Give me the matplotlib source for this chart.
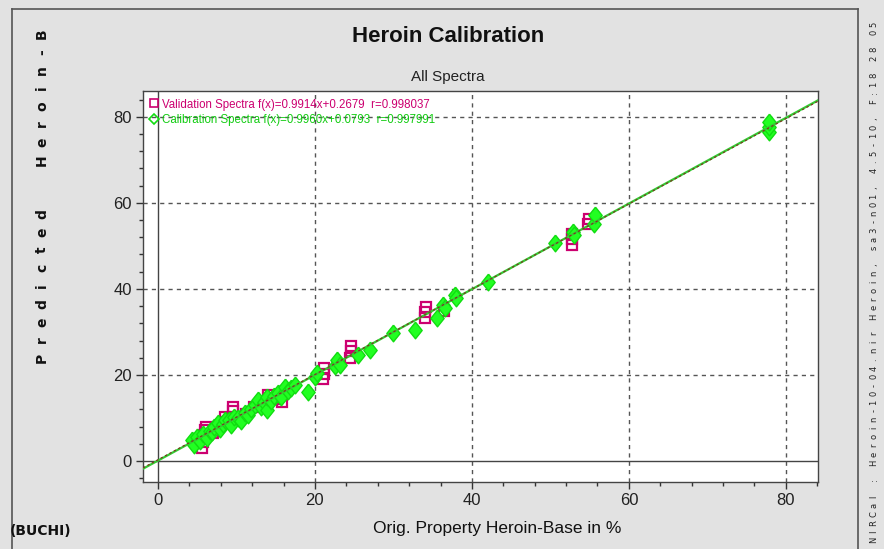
import numpy as np
from matplotlib import pyplot as plt
from matplotlib.lines import Line2D
from matplotlib.ticker import MultipleLocator

NARROW = ['Liberation Sans', 'DejaVu Sans']

# calibration spectra (green diamonds)
cal_x = [4.3, 4.6, 5.0, 5.3, 5.8, 6.2, 6.6, 6.9, 7.2, 7.6, 7.9, 8.3, 8.6, 9.0, 9.3, 9.7,
         10.2, 10.6, 11.1, 11.5, 11.9, 12.4, 12.7, 13.1, 13.5, 13.9, 13.9, 14.4, 14.8,
         15.3, 15.7, 16.2, 16.6, 17.0, 17.5, 19.1, 20.0, 20.3, 22.5, 22.8, 23.2, 25.5,
         27.0, 30.0, 32.7, 35.5, 36.3, 36.6, 37.8, 38.0, 42.0, 50.6, 52.9, 53.0, 55.5,
         55.7, 77.8, 77.9, 77.9]
cal_y = [4.9, 3.8, 5.6, 4.6, 6.2, 5.3, 7.0, 6.7, 8.0, 8.8, 7.4, 8.5, 9.6, 9.5, 8.4, 10.3,
         10.0, 9.2, 11.2, 10.6, 12.0, 13.0, 14.2, 12.6, 13.8, 11.9, 14.9, 14.0, 15.1,
         15.8, 14.9, 17.2, 16.3, 16.9, 17.7, 16.0, 19.5, 20.5, 22.0, 23.5, 22.3, 24.6,
         25.8, 29.8, 30.5, 33.3, 36.3, 35.5, 38.6, 37.9, 41.6, 50.7, 53.3, 52.6, 55.0,
         57.2, 76.5, 77.7, 78.8]

# validation spectra (magenta squares)
val_x = [5.6, 5.7, 5.8, 6.0, 6.1, 7.0, 7.6, 8.5, 8.8, 9.5, 9.6, 10.5, 11.2, 12.2, 13.0,
         14.0, 15.0, 15.8, 21.0, 21.1, 21.2, 24.5, 24.6, 24.6, 34.0, 34.0, 34.1, 36.4,
         52.7, 52.8, 52.8, 54.8, 54.9]
val_y = [3.0, 4.5, 6.0, 7.2, 8.0, 6.5, 7.8, 10.2, 9.0, 12.6, 11.5, 10.0, 10.8, 12.5, 13.2,
         15.3, 14.5, 13.7, 19.0, 20.3, 21.5, 24.0, 25.5, 26.8, 33.2, 34.6, 35.9, 34.8,
         50.3, 51.5, 52.8, 55.2, 56.3]

val_fit = (0.9914, 0.2679, 0.998037)
cal_fit = (0.9960, 0.0793, 0.997991)

x_ticks = [0, 20, 40, 60, 80]
y_ticks = [0, 20, 40, 60, 80]

MAGENTA = '#cc0070'
GREEN = '#22ff22'
DIAMOND = [(0, 1), (0.8, 0), (0, -1), (-0.8, 0), (0, 1)]

fig = plt.figure(figsize=(8.84, 5.49), dpi=100, facecolor='#e2e2e2')
ax = fig.add_axes([0.1618, 0.122, 0.7636, 0.7122])
ax.set_facecolor('white')
ax.set_xlim(-1.9, 84.1)
ax.set_ylim(-4.9, 86)

for v in x_ticks[1:]:
    ax.axvline(v, color='#555555', lw=1, ls=(0, (3, 3)), zorder=1)
for v in y_ticks[1:]:
    ax.axhline(v, color='#555555', lw=1, ls=(0, (3, 3)), zorder=1)
ax.axvline(0, color='#444444', lw=1, zorder=1)
ax.axhline(0, color='#444444', lw=1, zorder=1)

ax.plot(val_x, val_y, ls='none', marker='s', ms=7.5, mfc='none', mec=MAGENTA, mew=1.6, zorder=3)
ax.plot(cal_x, cal_y, ls='none', marker=DIAMOND, ms=12, mfc=GREEN, mec='#11dd11', mew=1, zorder=4)

xx = np.array(ax.get_xlim())
ax.plot(xx, cal_fit[0] * xx + cal_fit[1], color='#33cc33', lw=1.6, zorder=5)
ax.plot(xx, val_fit[0] * xx + val_fit[1], color='#7a3a20', lw=0.9, ls=(0, (2, 2)), zorder=6)

handles = [
    Line2D([], [], ls='none', marker='s', ms=6, mfc='none', mec=MAGENTA, mew=1.2),
    Line2D([], [], ls='none', marker='D', ms=5, mfc='none', mec='#11dd11', mew=1.2),
]
labels = [
    'Validation Spectra f(x)=%.4fx+%.4f  r=%.6f' % val_fit,
    'Calibration Spectra f(x)=%.4fx+%.4f  r=%.6f' % cal_fit,
]
leg = ax.legend(handles, labels, loc='upper left', frameon=False, borderaxespad=0.25,
                handlelength=0.6, handletextpad=0.4, labelspacing=0.3,
                labelcolor=[MAGENTA, '#11cc11'], prop={'family': NARROW, 'size': 8.3})

ax.set_xticks(x_ticks)
ax.set_yticks(y_ticks)
ax.xaxis.set_minor_locator(MultipleLocator(4))
ax.yaxis.set_minor_locator(MultipleLocator(4))
ax.tick_params(which='major', direction='out', length=5, width=1, color='#333333',
               labelsize=12, labelcolor='#222222', pad=3)
ax.tick_params(which='minor', direction='out', length=3, width=1, color='#333333')
for lab in ax.get_xticklabels() + ax.get_yticklabels():
    lab.set_family(NARROW)
for s in ax.spines.values():
    s.set_color('#444444')
    s.set_linewidth(1)

fig.text(0.507, 0.934, 'Heroin Calibration', ha='center', va='center',
         family=NARROW, fontsize=16, fontweight='bold', color='#111111')
fig.text(0.507, 0.860, 'All Spectra', ha='center', va='center',
         family=NARROW, fontsize=11, color='#222222')
fig.text(0.562, 0.038, 'Orig. Property Heroin-Base in %', ha='center', va='center',
         family=NARROW, fontsize=12.5, color='#111111')


def spaced_vertical(text, x_px, y_start_px, step, **kw):
    # draw rotated text one character at a time, going upwards
    y = y_start_px
    for ch in text:
        if ch != ' ':
            fig.text(x_px / 884, 1 - y / 549, ch, rotation=90, ha='center', va='center', **kw)
        y -= step


# the reference only shows the start of this label, the rest runs off the top
spaced_vertical('Predicted  Heroin-B', 42, 358, 18.0,
                fontsize=10, fontweight='bold', color='#111111')
spaced_vertical('NIRCal : Heroin-10-04.nir Heroin, sa3-n01, 4.5-10, F:18 28 05',
                874, 540, 8.6, fontsize=6, color='#222222')

fig.text(0.0464, 0.033, '(BUCHI)', ha='center', va='center', fontsize=10,
         fontweight='heavy', family='DejaVu Sans Condensed', color='#111111')

frame_kw = dict(color='#555555', lw=1.2, transform=fig.transFigure)
fig.add_artist(Line2D([12 / 884, 12 / 884], [0, 1 - 9 / 549], **frame_kw))
fig.add_artist(Line2D([12 / 884, 858 / 884], [1 - 9 / 549, 1 - 9 / 549], **frame_kw))
fig.add_artist(Line2D([858 / 884, 858 / 884], [0, 1 - 9 / 549], **frame_kw))

fig.savefig('out.png', dpi=100, facecolor=fig.get_facecolor())
